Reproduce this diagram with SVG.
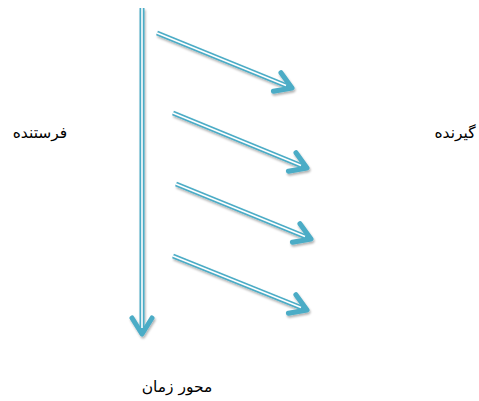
<svg xmlns="http://www.w3.org/2000/svg" width="479" height="401" viewBox="0 0 479 401">
<style>
.shaft{fill:none;stroke:#4BACC6;stroke-width:5;stroke-linecap:butt}
.core{fill:none;stroke:#ffffff;stroke-width:1.6}
.lbl{font-family:"DejaVu Sans","Noto Sans",sans-serif;font-size:15.5px;fill:#000}
</style>
<defs>
<marker id="head" markerUnits="userSpaceOnUse" markerWidth="50" markerHeight="50" viewBox="-25 -25 50 50" refX="0" refY="0" orient="auto" overflow="visible">
<path d="M-16,-10 L0,0 L-16,10" fill="none" stroke="#4BACC6" stroke-width="5" stroke-linecap="round" stroke-linejoin="round"/>
</marker>
<filter id="sh" x="-10%" y="-10%" width="130%" height="130%">
<feDropShadow dx="1" dy="2" stdDeviation="1.2" flood-color="#000" flood-opacity="0.3"/>
</filter>
</defs>
<g id="connectors" filter="url(#sh)">
<g id="time-axis">
<line class="shaft" x1="142" y1="8" x2="142" y2="334" marker-end="url(#head)"/>
<line class="core" x1="142" y1="8" x2="142" y2="328"/>
</g>
<g id="msg1">
<line class="shaft" x1="157" y1="33" x2="292" y2="88" marker-end="url(#head)"/>
<line class="core" x1="157" y1="33" x2="286" y2="85.5"/>
</g>
<g id="msg2">
<line class="shaft" x1="173" y1="113" x2="307" y2="168" marker-end="url(#head)"/>
<line class="core" x1="173" y1="113" x2="301" y2="165.5"/>
</g>
<g id="msg3">
<line class="shaft" x1="176" y1="184" x2="311" y2="239" marker-end="url(#head)"/>
<line class="core" x1="176" y1="184" x2="305" y2="236.5"/>
</g>
<g id="msg4">
<line class="shaft" x1="173" y1="256" x2="307" y2="310" marker-end="url(#head)"/>
<line class="core" x1="173" y1="256" x2="301" y2="307.5"/>
</g>
</g>
<g id="sender"><text class="lbl" x="40" y="138" text-anchor="middle">فرستنده</text></g>
<g id="receiver"><text class="lbl" x="455" y="138" text-anchor="middle">گیرنده</text></g>
<g id="time-label"><text class="lbl" x="177" y="392" text-anchor="middle">محور زمان</text></g>
</svg>
